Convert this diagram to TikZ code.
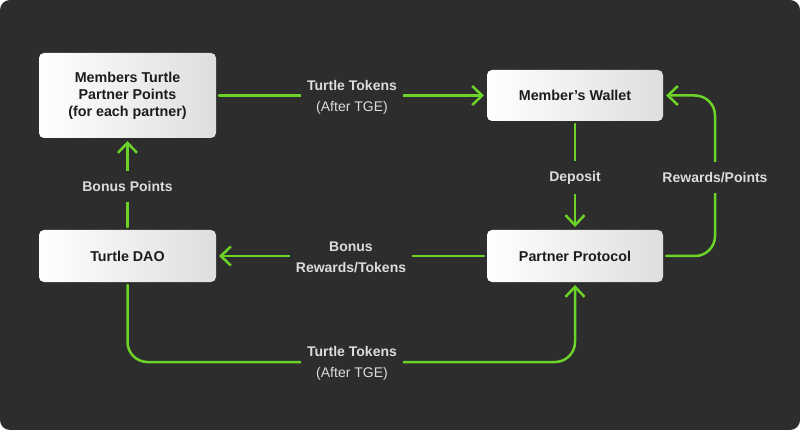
\documentclass[tikz,border=0pt]{standalone}
\usepackage{fontspec}
\setmainfont{Liberation Sans}
\usetikzlibrary{arrows.meta}
\definecolor{bgc}{RGB}{45,45,45}
\definecolor{grn}{RGB}{108,212,40}
\definecolor{lbl}{RGB}{220,220,220}
\definecolor{boxtxt}{RGB}{28,28,28}
\begin{document}
\begin{tikzpicture}[x=1pt,y=-1pt,
  box/.style={rounded corners=5pt, left color=white, right color={rgb,255:red,222;green,222;blue,222},
    text=boxtxt, font=\fontsize{14.3}{17}\selectfont\bfseries, align=center, outer sep=3pt},
  conn/.style={draw=grn, line width=2.5pt, line cap=round, line join=round,
    -{Straight Barb[length=10pt,width=19pt]}},
  lab/.style={fill=bgc, text=lbl, font=\fontsize{14}{21}\selectfont, align=center, inner xsep=6pt, inner ysep=10pt}]
\fill[white] (0,0) rectangle (800,430);
\fill[bgc, rounded corners=10pt] (0,0) rectangle (800,430);
\useasboundingbox (0,0) rectangle (800,430);
% boxes
\node[box, minimum width=177pt, minimum height=85pt] (members) at (127.5,95.5) {Members Turtle\\Partner Points\\(for each partner)};
\node[box, minimum width=176pt, minimum height=51pt] (wallet) at (575,95.5) {Member’s Wallet};
\node[box, minimum width=177pt, minimum height=52pt] (dao) at (127.5,256) {Turtle DAO};
\node[box, minimum width=176pt, minimum height=52pt] (partner) at (575,256) {Partner Protocol};
% helper coordinates
\coordinate (r1) at (715,256);
\coordinate (r2) at (715,95.5);
\coordinate (b1) at (127.5,362);
\coordinate (b2) at (575,362);
% connectors
\draw[conn] (members) -- (wallet);
\node[lab] at (352,97) {\bfseries Turtle Tokens\\(After TGE)};
\draw[conn] (wallet) -- (partner);
\node[lab] at (575,177.5) {\bfseries Deposit};
\draw[conn, rounded corners=20pt] (partner.east) -- (r1) -- (r2) -- (wallet.east);
\node[lab] at (715,177.5) {\bfseries Rewards/Points};
\draw[conn] (partner) -- (dao);
\node[lab] at (351,257.5) {\bfseries Bonus\\\bfseries Rewards/Tokens};
\draw[conn] (dao) -- (members);
\node[lab] at (127.5,186.5) {\bfseries Bonus Points};
\draw[conn, rounded corners=20pt] (dao.south) -- (b1) -- (b2) -- (partner.south);
\node[lab] at (352,363.5) {\bfseries Turtle Tokens\\(After TGE)};
\end{tikzpicture}
\end{document}
